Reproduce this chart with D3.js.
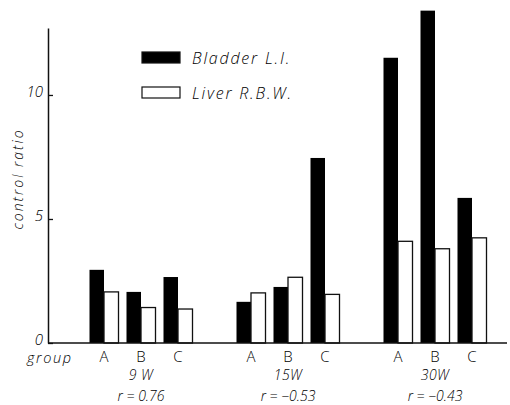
<!DOCTYPE html>
<html>
<head>
<meta charset="utf-8">
<script src="https://cdn.jsdelivr.net/npm/d3@7"></script>
<style>
  body { margin: 0; background: #fff; }
  text { font-family: "Open Sans", "DejaVu Sans", sans-serif; font-style: italic; font-weight: 300; fill: #000; }
</style>
</head>
<body>
<svg id="chart" width="510" height="405"></svg>
<script>
// values (control ratio)
var weeks = ["9 W", "15W", "30W"];
var groups = ["A", "B", "C"];
var bladderLI = [[2.95, 2.06, 2.66], [1.66, 2.26, 7.46], [11.5, 13.4, 5.85]];
var liverRBW = [[2.06, 1.43, 1.37], [2.02, 2.65, 1.96], [4.1, 3.8, 4.24]];
var rLabels = ["r = 0.76", "r = −0.53", "r = −0.43"];
var yTicks = [0, 5, 10];

var svg = d3.select("#chart");
var barW = 14.5;

var y = d3.scaleLinear().domain([0, 12.7]).range([343, 28]);
var x = d3.scalePoint().domain(weeks).range([141, 435]);
var xi = d3.scalePoint().domain(groups).range([-37, 37]);

var rows = [];
weeks.forEach(function(w, i) {
  groups.forEach(function(g, j) {
    rows.push({ week: w, group: g, li: bladderLI[i][j], rbw: liverRBW[i][j] });
  });
});

// y axis, ticks pointing inward
var yAxis = svg.append("g")
    .attr("transform", "translate(48,0)")
    .call(d3.axisLeft(y).tickValues(yTicks).tickSizeInner(-5).tickSizeOuter(0).tickPadding(5));
yAxis.select(".domain").attr("stroke", "#111").attr("stroke-width", 1.5);
yAxis.selectAll(".tick line").attr("stroke", "#111").attr("stroke-width", 1.3);
yAxis.selectAll(".tick text")
    .style("font-family", "'Open Sans', 'DejaVu Sans', sans-serif")
    .style("font-style", "italic")
    .style("font-weight", 300)
    .attr("font-size", 15)
    .attr("dy", "0.12em")
    .attr("fill", "#000");

svg.append("text")
    .attr("transform", "translate(23,179) rotate(-90)")
    .attr("text-anchor", "middle")
    .attr("font-size", 14)
    .attr("letter-spacing", 2)
    .text("control ratio");

// bars
var bar = svg.append("g").selectAll("g")
    .data(rows)
    .join("g")
    .attr("transform", function(d) { return "translate(" + (x(d.week) + xi(d.group)) + ",0)"; });

bar.append("rect")
    .attr("x", -barW)
    .attr("y", function(d) { return y(d.li); })
    .attr("width", barW)
    .attr("height", function(d) { return y(0) - y(d.li); })
    .attr("fill", "#000");

bar.append("rect")
    .attr("x", 0)
    .attr("y", function(d) { return y(d.rbw); })
    .attr("width", barW)
    .attr("height", function(d) { return y(0) - y(d.rbw); })
    .attr("fill", "#fff")
    .attr("stroke", "#111")
    .attr("stroke-width", 1.3);

bar.append("text")
    .attr("y", 362)
    .attr("text-anchor", "middle")
    .attr("font-size", 15)
    .style("font-style", "normal")
    .text(function(d) { return d.group; });

// baseline
svg.append("line")
    .attr("x1", 48).attr("x2", 507)
    .attr("y1", y(0)).attr("y2", y(0))
    .attr("stroke", "#111").attr("stroke-width", 1.5);

svg.append("text")
    .attr("x", 27).attr("y", 363)
    .attr("font-size", 14.5)
    .attr("letter-spacing", 1.6)
    .text("group");

// week and correlation labels
var wk = svg.append("g").selectAll("g")
    .data(weeks)
    .join("g")
    .attr("transform", function(d) { return "translate(" + x(d) + ",0)"; });

wk.append("text")
    .attr("y", 380)
    .attr("text-anchor", "middle")
    .attr("font-size", 14)
    .attr("letter-spacing", 0.5)
    .text(function(d) { return d; });

wk.append("text")
    .attr("y", 401)
    .attr("text-anchor", "middle")
    .attr("font-size", 14)
    .text(function(d, i) { return rLabels[i]; });

// legend
var legend = svg.append("g").attr("transform", "translate(142,52)");
var legendItems = [
  { label: "Bladder L.I.", fill: "#000" },
  { label: "Liver R.B.W.", fill: "#fff" }
];
var li = legend.selectAll("g")
    .data(legendItems)
    .join("g")
    .attr("transform", function(d, i) { return "translate(0," + (i * 35) + ")"; });
li.append("rect")
    .attr("width", 38).attr("height", 11)
    .attr("fill", function(d) { return d.fill; })
    .attr("stroke", "#111").attr("stroke-width", 1.2);
li.append("text")
    .attr("x", 50).attr("y", 12)
    .attr("font-size", 16)
    .attr("letter-spacing", 1.8)
    .text(function(d) { return d.label; });
</script>
</body>
</html>
